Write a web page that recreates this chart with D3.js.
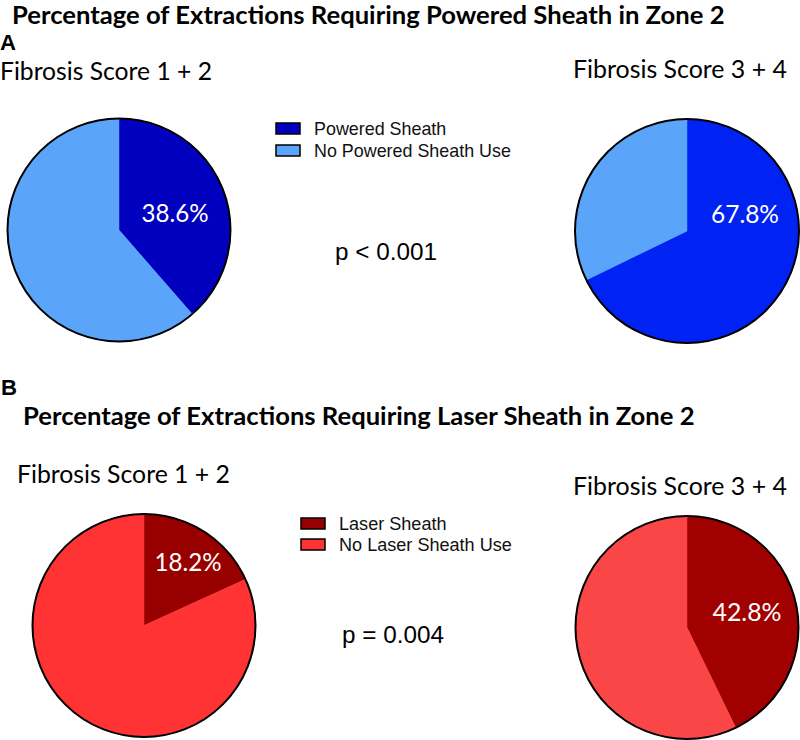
<!DOCTYPE html>
<html>
<head>
<meta charset="utf-8">
<script src="https://cdn.jsdelivr.net/npm/d3@7"></script>
<style>
  html, body { margin: 0; padding: 0; background: #fff; }
  svg { display: block; }
</style>
</head>
<body>
<svg id="chart" width="800" height="740"></svg>
<script>
// ---------- data ----------
const panelLetters = ["A", "B"];
const panelTitles = [
  "Percentage of Extractions Requiring Powered Sheath in Zone 2",
  "Percentage of Extractions Requiring Laser Sheath in Zone 2"
];
const groupLabels = ["Fibrosis Score 1 + 2", "Fibrosis Score 3 + 4"];
const poweredPct = [38.6, 67.8];
const laserPct = [18.2, 42.8];
const poweredLegend = ["Powered Sheath", "No Powered Sheath Use"];
const laserLegend = ["Laser Sheath", "No Laser Sheath Use"];
const pValues = ["p < 0.001", "p = 0.004"];

// ---------- styles ----------
const poweredColors = [["#0000BE", "#5AA5FA"], ["#0022F2", "#5AA5FA"]];
const laserColors = [["#980000", "#FF3333"], ["#A00000", "#FA4646"]];
const legendColorsA = ["#0000BE", "#5AA5FA"];
const legendColorsB = ["#980000", "#FF3333"];
const headFont = "Lato, 'Open Sans', sans-serif";
const armFont = "'Liberation Sans', Arial, sans-serif";

const svg = d3.select("#chart");

function fitText(sel, target) {
  const node = sel.node();
  const fs = parseFloat(sel.attr("font-size"));
  const w = node.getComputedTextLength();
  if (w > 0) sel.attr("font-size", (fs * target / w).toFixed(2));
  return sel;
}
function addText(x, y, txt, opts) {
  const t = svg.append("text")
    .attr("x", x).attr("y", y)
    .attr("font-family", opts.font || headFont)
    .attr("font-weight", opts.bold ? "bold" : "normal")
    .attr("font-size", opts.size || 20)
    .attr("fill", opts.fill || "#000")
    .attr("text-anchor", opts.anchor || "start")
    .text(txt);
  if (opts.width) fitText(t, opts.width);
  return t;
}

// ---------- layout ----------
const panels = [
  {
    letter: { x: 0, y: 50 },
    title: { x: 12, y: 23.5, w: 713 },
    groupPos: [{ x: 0, y: 80, w: 212 }, { x: 573, y: 78, w: 214 }],
    pies: [{ cx: 119, cy: 230, r: 111.5 }, { cx: 687, cy: 231, r: 112 }],
    labelOff: [{ dx: 56, dy: -8 }, { dx: 58, dy: -8 }],
    labelW: [67, 68],
    values: poweredPct, colors: poweredColors,
    legend: { x: 276, y: 123, dy: 22, tx: 314, w: 197 },
    legendLabels: poweredLegend, legendColors: legendColorsA,
    p: { x: 335, y: 260, w: 102 }
  },
  {
    letter: { x: 1, y: 395 },
    title: { x: 23, y: 425, w: 672 },
    groupPos: [{ x: 17, y: 483, w: 213 }, { x: 573, y: 495, w: 214 }],
    pies: [{ cx: 144, cy: 625.5, r: 111.5 }, { cx: 687, cy: 627.5, r: 111.5 }],
    labelOff: [{ dx: 44, dy: -55 }, { dx: 60, dy: -7 }],
    labelW: [67, 69],
    values: laserPct, colors: laserColors,
    legend: { x: 301, y: 518, dy: 21, tx: 339, w: 173 },
    legendLabels: laserLegend, legendColors: legendColorsB,
    p: { x: 342, y: 643, w: 102 }
  }
];

const pie = d3.pie().sort(null).value(d => d);

panels.forEach((P, pi) => {
  addText(P.letter.x, P.letter.y, panelLetters[pi], { bold: true, size: 21, font: armFont, width: 16 });
  addText(P.title.x, P.title.y, panelTitles[pi], { bold: true, size: 20, width: P.title.w });

  groupLabels.forEach((g, gi) => {
    const gp = P.groupPos[gi];
    addText(gp.x, gp.y, g, { size: 24, width: gp.w });

    const pc = P.pies[gi];
    const pct = P.values[gi];
    const arcs = pie([pct, 100 - pct]);
    const arc = d3.arc().innerRadius(0).outerRadius(pc.r);
    const g2 = svg.append("g").attr("transform", `translate(${pc.cx},${pc.cy})`);
    g2.selectAll("path.slice").data(arcs).enter().append("path")
      .attr("class", "slice")
      .attr("d", arc)
      .attr("fill", (d, i) => P.colors[gi][i])
      .attr("stroke", (d, i) => P.colors[gi][i])
      .attr("stroke-width", 0.5);
    g2.append("circle").attr("r", pc.r)
      .attr("fill", "none").attr("stroke", "#000").attr("stroke-width", 2);
    const lo = P.labelOff[gi];
    const lbl = g2.append("text")
      .attr("x", lo.dx).attr("y", lo.dy)
      .attr("text-anchor", "middle")
      .attr("font-family", headFont)
      .attr("font-size", 24)
      .attr("fill", "#fff")
      .text(d3.format(".1f")(pct) + "%");
    fitText(lbl, P.labelW[gi]);
  });

  // legend
  const legNodes = [];
  P.legendLabels.forEach((lab, li) => {
    svg.append("rect")
      .attr("x", P.legend.x).attr("y", P.legend.y + li * P.legend.dy)
      .attr("width", 24).attr("height", 11)
      .attr("fill", P.legendColors[li])
      .attr("stroke", "#000").attr("stroke-width", 1.5);
    const t = addText(P.legend.tx, P.legend.y + li * P.legend.dy + 11.5, lab, { size: 16, font: armFont, fill: "#111" });
    legNodes.push(t);
  });
  fitText(legNodes[1], P.legend.w);
  legNodes[0].attr("font-size", legNodes[1].attr("font-size"));

  addText(P.p.x, P.p.y, pValues[pi], { size: 24, font: armFont, width: P.p.w });
});
</script>
</body>
</html>
